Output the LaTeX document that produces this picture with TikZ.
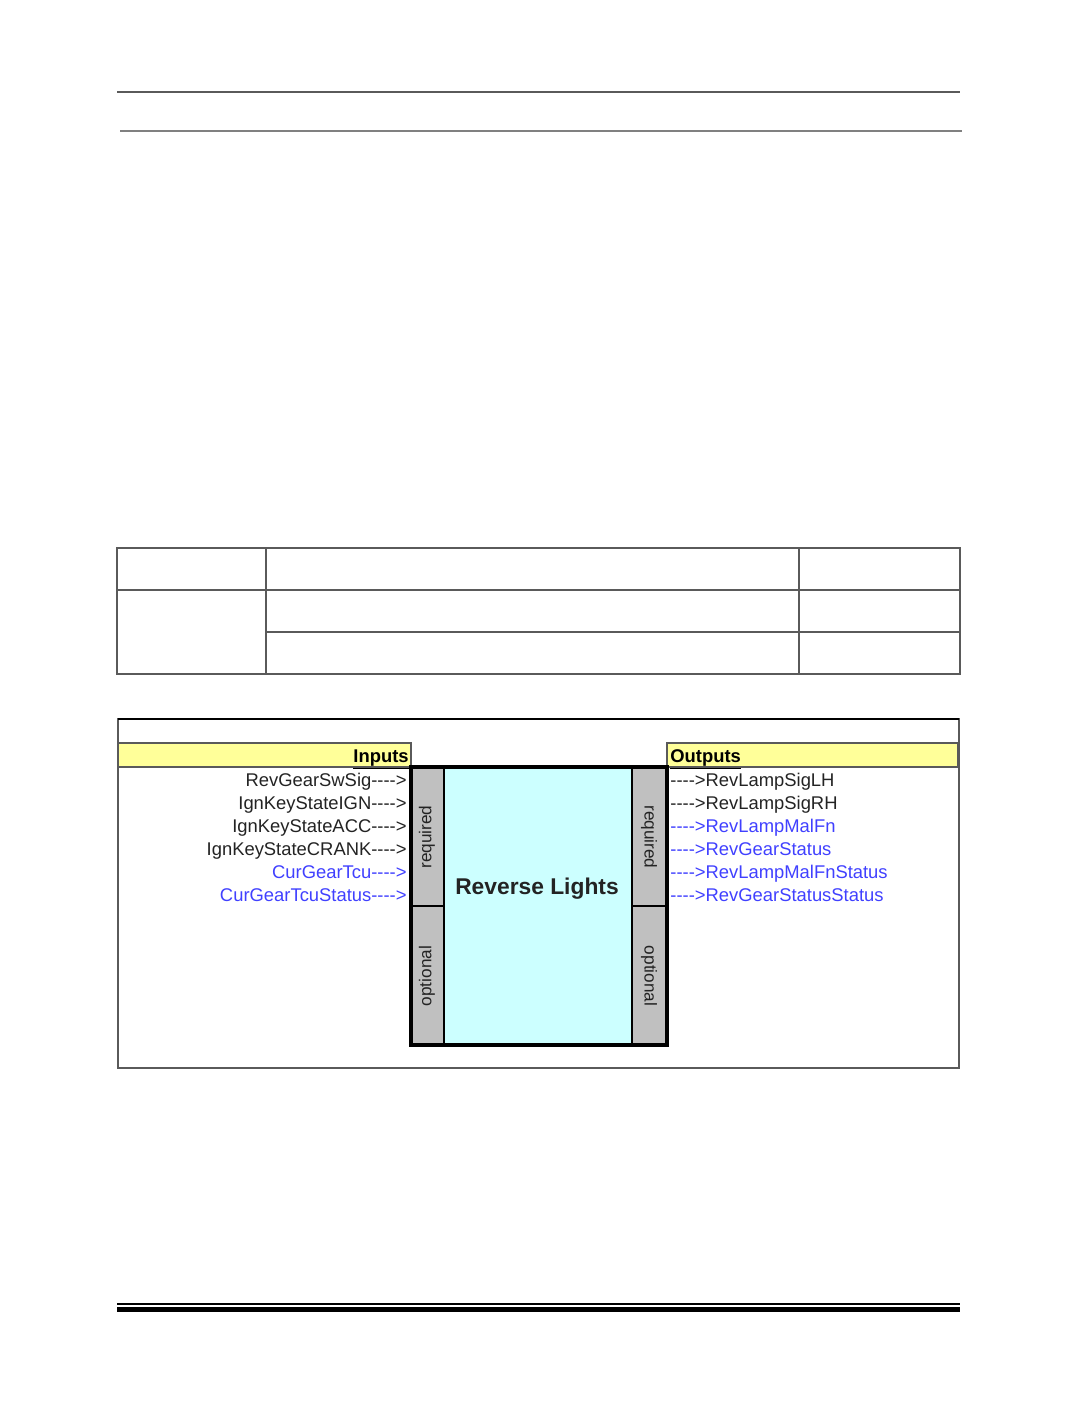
\documentclass[tikz,border=0pt]{standalone}
\usepackage{fontspec}
\setmainfont{Liberation Sans}[Ligatures=TeXOff]
\usetikzlibrary{positioning}
\definecolor{hdryellow}{RGB}{255,255,153}
\definecolor{blkcyan}{RGB}{204,255,255}
\definecolor{portgray}{RGB}{192,192,192}
\definecolor{sigblue}{RGB}{64,64,255}
\definecolor{sigdark}{RGB}{35,35,35}
\definecolor{gridgray}{RGB}{90,90,90}
\tikzset{
  sigin/.style={anchor=base east, inner sep=0pt, text=sigdark, font=\fontsize{9.2}{10}\selectfont},
  sigout/.style={anchor=base west, inner sep=0pt, text=sigdark, font=\fontsize{9.2}{10}\selectfont},
  hdrtext/.style={inner sep=0pt, font=\bfseries\fontsize{9.2}{10}\selectfont},
  portlbl/.style={inner sep=0pt, text=sigdark, font=\fontsize{8.6}{10}\selectfont},
  gridline/.style={gridgray, line width=0.7pt}
}
\begin{document}
\begin{tikzpicture}[x=0.5pt,y=-0.5pt]
\useasboundingbox (0,0) rectangle (1075,1422);
% page rules
\draw[gridgray, line width=0.6pt] (117,92) -- (960,92);
\draw[gray, line width=1.1pt] (120,131) -- (962,131);
% empty table
\draw[gridline] (117,548) rectangle (960,674);
\draw[gridline] (117,590) -- (960,590);
\draw[gridline] (266,632) -- (960,632);
\draw[gridline] (266,548) -- (266,674);
\draw[gridline] (799,548) -- (799,674);
% diagram frame
\draw[gridline] (118,719) rectangle (959,1068);
\draw[line width=1pt] (118,719) -- (959,719);
% header bars
\draw[fill=hdryellow, draw=gridgray, line width=0.6pt] (118,743) rectangle (411,767);
\draw[fill=hdryellow, draw=gridgray, line width=0.6pt] (667,743) rectangle (958,767);
\node[hdrtext, anchor=base east] (inhdr) at (409,762) {\underline{Inputs}};
\node[hdrtext, anchor=base west] (outhdr) at (670,762) {\underline{Outputs}};
% the block
\fill[blkcyan] (411,767) rectangle (667,1045);
\fill[portgray] (411,767) rectangle (444,1045);
\fill[portgray] (632,767) rectangle (667,1045);
\draw[line width=1pt] (444,767) -- (444,1045) (632,767) -- (632,1045);
\draw[line width=1pt] (411,906) -- (444,906) (632,906) -- (667,906);
\draw[line width=2pt] (411,767) rectangle (667,1045);
\node[font=\bfseries\fontsize{11.4}{13}\selectfont, text=sigdark] (blk) at (537,889) {Reverse Lights};
\node[portlbl, rotate=90] (inreq) at (427,837) {required};
\node[portlbl, rotate=90] (inopt) at (427,976) {optional};
\node[portlbl, rotate=-90] (outreq) at (649,837) {required};
\node[portlbl, rotate=-90] (outopt) at (649,976) {optional};
% inputs
\node[sigin] (in1) at (407,786) {RevGearSwSig---->};
\node[sigin] (in2) at (407,809) {IgnKeyStateIGN---->};
\node[sigin] (in3) at (407,832) {IgnKeyStateACC---->};
\node[sigin] (in4) at (407,855) {IgnKeyStateCRANK---->};
\node[sigin, text=sigblue] (in5) at (407,878) {CurGearTcu---->};
\node[sigin, text=sigblue] (in6) at (407,901) {CurGearTcuStatus---->};
% outputs
\node[sigout] (out1) at (670,786) {---->RevLampSigLH};
\node[sigout] (out2) at (670,809) {---->RevLampSigRH};
\node[sigout, text=sigblue] (out3) at (670,832) {---->RevLampMalFn};
\node[sigout, text=sigblue] (out4) at (670,855) {---->RevGearStatus};
\node[sigout, text=sigblue] (out5) at (670,878) {---->RevLampMalFnStatus};
\node[sigout, text=sigblue] (out6) at (670,901) {---->RevGearStatusStatus};
% footer rules
\draw[line width=1.2pt] (117,1304) -- (960,1304);
\draw[line width=2.6pt] (117,1309.5) -- (960,1309.5);
\end{tikzpicture}
\end{document}
